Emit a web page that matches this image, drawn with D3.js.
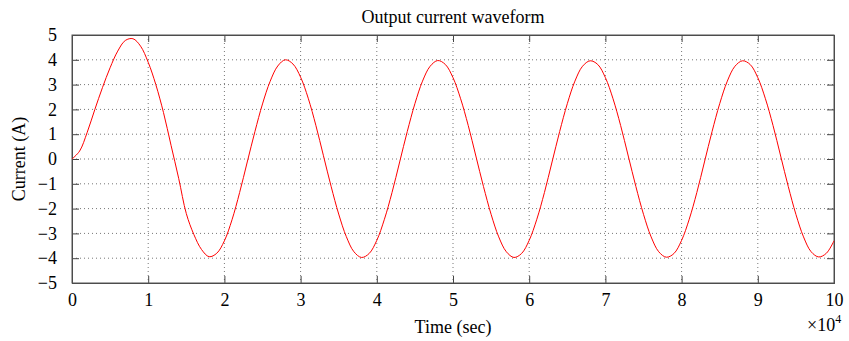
<!DOCTYPE html>
<html>
<head>
<meta charset="utf-8">
<script src="https://cdn.jsdelivr.net/npm/d3@7"></script>
<style>
  body { margin: 0; background: #fff; }
  text { font-family: "Liberation Serif", "Times New Roman", serif; fill: #000; }
</style>
</head>
<body>
<div id="chart"></div>
<script>
// time in units of 1e4 sec, sampled every 0.1
var timeStep = 0.1;
var current = [
  0, 0.32, 1.08, 2.0, 2.88, 3.68, 4.35, 4.78, 4.85, 4.55,
  3.9, 3.0, 1.88, 0.55, -0.78, -2.2, -3.05, -3.65, -3.94, -3.8,
  -3.3, -2.45, -1.35, -0.12, 1.1, 2.22, 3.13, 3.75, 4.0, 3.83,
  3.3, 2.45, 1.36, 0.13, -1.1, -2.22, -3.13, -3.74, -3.97, -3.81,
  -3.28, -2.43, -1.35, -0.12, 1.11, 2.23, 3.14, 3.74, 3.97, 3.81,
  3.28, 2.43, 1.35, 0.12, -1.11, -2.23, -3.14, -3.74, -3.97, -3.81,
  -3.28, -2.43, -1.35, -0.12, 1.11, 2.23, 3.14, 3.74, 3.96, 3.81,
  3.28, 2.43, 1.35, 0.12, -1.11, -2.23, -3.14, -3.74, -3.96, -3.81,
  -3.28, -2.43, -1.35, -0.12, 1.11, 2.23, 3.14, 3.74, 3.96, 3.81,
  3.28, 2.43, 1.35, 0.12, -1.11, -2.23, -3.14, -3.74, -3.95, -3.8,
  -3.3
];
var xTicks = [0, 1, 2, 3, 4, 5, 6, 7, 8, 9, 10];
var yTicks = [-5, -4, -3, -2, -1, 0, 1, 2, 3, 4, 5];

var W = 849, H = 341;
var margin = {top: 35, right: 15, bottom: 58, left: 72},
    width = W - margin.left - margin.right,
    height = H - margin.top - margin.bottom;

var x = d3.scaleLinear().domain([0, 10]).range([0, width]);
var y = d3.scaleLinear().domain([-5, 5]).range([height, 0]);

var svg = d3.select("#chart").append("svg")
    .attr("width", W)
    .attr("height", H);

var g = svg.append("g")
    .attr("transform", "translate(" + margin.left + "," + margin.top + ")");

// dotted grid
g.append("g")
    .selectAll("line")
    .data(xTicks.slice(1, -1))
  .enter().append("line")
    .attr("x1", function(d) { return x(d); })
    .attr("x2", function(d) { return x(d); })
    .attr("y1", 0).attr("y2", height)
    .attr("stroke", "#777").attr("stroke-dasharray", "1,3");

g.append("g")
    .selectAll("line")
    .data(yTicks.slice(1, -1))
  .enter().append("line")
    .attr("y1", function(d) { return y(d); })
    .attr("y2", function(d) { return y(d); })
    .attr("x1", 0).attr("x2", width)
    .attr("stroke", "#777").attr("stroke-dasharray", "1,3");

// axes with inward ticks
var tk = 7;
var xAxis = d3.axisBottom(x).tickValues(xTicks).tickSize(-tk).tickPadding(10);
var yAxis = d3.axisLeft(y).tickValues(yTicks).tickSize(-tk).tickPadding(15);

g.append("g")
    .attr("transform", "translate(0," + height + ")")
    .call(xAxis);
g.append("g")
    .call(yAxis);
g.append("g")
    .call(d3.axisTop(x).tickValues(xTicks).tickSize(-tk).tickFormat(""));
g.append("g")
    .attr("transform", "translate(" + width + ",0)")
    .call(d3.axisRight(y).tickValues(yTicks).tickSize(-tk).tickFormat(""));

g.selectAll(".domain").attr("stroke", "#444");
g.selectAll(".tick line").attr("stroke", "#444");
g.selectAll(".tick text")
    .style("font-family", "Liberation Serif, serif")
    .style("font-size", "18px")
    .attr("fill", "#000");

// frame
g.append("rect")
    .attr("width", width).attr("height", height)
    .attr("fill", "none").attr("stroke", "#555");

// waveform
var line = d3.line()
    .x(function(d, i) { return x(i * timeStep); })
    .y(function(d) { return y(d); })
    .curve(d3.curveCatmullRom);

g.append("path")
    .datum(current)
    .attr("fill", "none")
    .attr("stroke", "#ff0000")
    .attr("stroke-width", 1)
    .attr("d", line);

// labels
svg.append("text")
    .attr("x", margin.left + width / 2).attr("y", 23)
    .attr("text-anchor", "middle")
    .style("font-size", "18px")
    .text("Output current waveform");

svg.append("text")
    .attr("x", margin.left + width / 2).attr("y", 333)
    .attr("text-anchor", "middle")
    .style("font-size", "18px")
    .text("Time (sec)");

svg.append("text")
    .attr("transform", "translate(25," + (margin.top + height / 2) + ") rotate(-90)")
    .attr("text-anchor", "middle")
    .style("font-size", "18px")
    .text("Current (A)");

var mult = svg.append("text")
    .attr("x", 807).attr("y", 331)
    .style("font-size", "18px");
mult.append("tspan").text("\u00d710");
mult.append("tspan").attr("dy", -8).style("font-size", "12px").text("4");
</script>
</body>
</html>
